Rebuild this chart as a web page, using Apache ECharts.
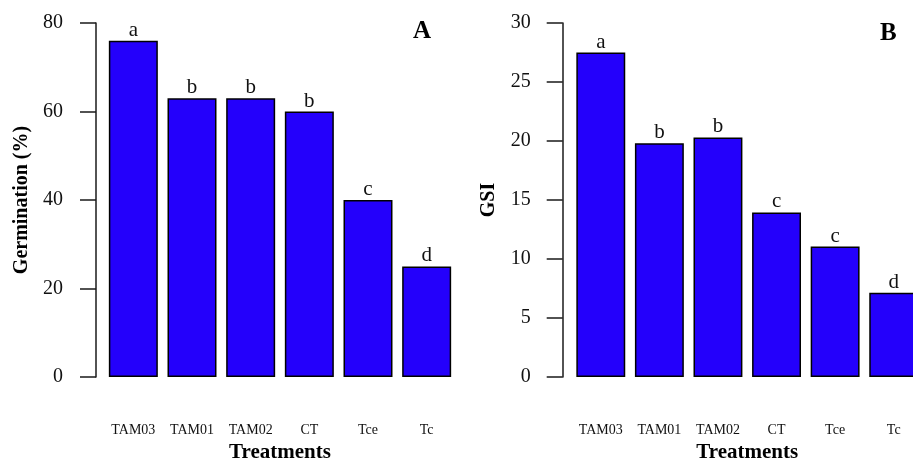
<!DOCTYPE html>
<html>
<head>
<meta charset="utf-8">
<script src="https://cdn.jsdelivr.net/npm/echarts@6/dist/echarts.min.js"></script>
<style>html,body{margin:0;padding:0;background:#fff}#c{width:913px;height:468px}</style>
</head>
<body>
<div id="c"></div>
<script>
const categories = ['TAM03', 'TAM01', 'TAM02', 'CT', 'Tce', 'Tc'];
const germination = [76, 63, 63, 60, 40, 25];
const germLetters = ['a', 'b', 'b', 'b', 'c', 'd'];
const gsi = [27.5, 19.8, 20.3, 13.95, 11.05, 7.15];
const gsiLetters = ['a', 'b', 'b', 'c', 'c', 'd'];
const germTicks = { min: 0, max: 80, interval: 20 };
const gsiTicks = { min: 0, max: 30, interval: 5 };

const FONT = '"Liberation Serif", "Times New Roman", serif';
const AX = '#1a1a1a';
const BLUE = '#2400fb';

function xAxisCfg(gridIndex) {
  return {
    type: 'category', gridIndex, data: categories,
    axisLine: { show: false }, axisTick: { show: false },
    axisLabel: { interval: 0, margin: 46, fontFamily: FONT, fontSize: 14, color: '#111' },
    name: 'Treatments', nameLocation: 'middle', nameGap: 62,
    nameTextStyle: { fontFamily: FONT, fontSize: 21, fontWeight: 'bold', color: '#000' }
  };
}
function yAxisCfg(gridIndex, ticks, name, offset, nameGap, labelMargin) {
  return {
    type: 'value', gridIndex, min: ticks.min, max: ticks.max, interval: ticks.interval,
    offset,
    axisLine: { show: true, lineStyle: { color: AX, width: 1.5 } },
    axisTick: { show: true, length: 16, lineStyle: { color: AX, width: 1.5 } },
    axisLabel: { margin: labelMargin, fontFamily: FONT, fontSize: 20, color: '#111' },
    splitLine: { show: false },
    name, nameLocation: 'middle', nameGap, nameRotate: 90,
    nameTextStyle: { fontFamily: FONT, fontSize: 20, fontWeight: 'bold', color: '#000' }
  };
}
function barSeries(idx, data, letters) {
  return {
    type: 'bar', xAxisIndex: idx, yAxisIndex: idx, data,
    barCategoryGap: '16.5%',
    itemStyle: { color: BLUE, borderColor: '#000', borderWidth: 1.5 },
    label: {
      show: true, position: 'top', distance: 0,
      fontFamily: FONT, fontSize: 21, color: '#111',
      formatter: p => letters[p.dataIndex]
    },
    silent: true, animation: false
  };
}

const chart = echarts.init(document.getElementById('c'), null, { renderer: 'canvas' });
chart.setOption({
  backgroundColor: '#fff',
  animation: false,
  grid: [
    { left: 104, width: 352, top: 23, height: 354, outerBoundsMode: 'none', containLabel: false },
    { left: 571.5, width: 351.5, top: 23, height: 354, outerBoundsMode: 'none', containLabel: false }
  ],
  xAxis: [xAxisCfg(0), xAxisCfg(1)],
  yAxis: [
    yAxisCfg(0, germTicks, 'Germination (%)', 8, 64, 33),
    yAxisCfg(1, gsiTicks, 'GSI', 8.8, 64, 32)
  ],
  series: [barSeries(0, germination, germLetters), barSeries(1, gsi, gsiLetters)],
  graphic: [
    { type: 'text', left: 413, top: 19, style: { text: 'A', font: 'bold 25px ' + FONT, fill: '#000' } },
    { type: 'text', left: 880, top: 21, style: { text: 'B', font: 'bold 25px ' + FONT, fill: '#000' } }
  ]
});
</script>
</body>
</html>
